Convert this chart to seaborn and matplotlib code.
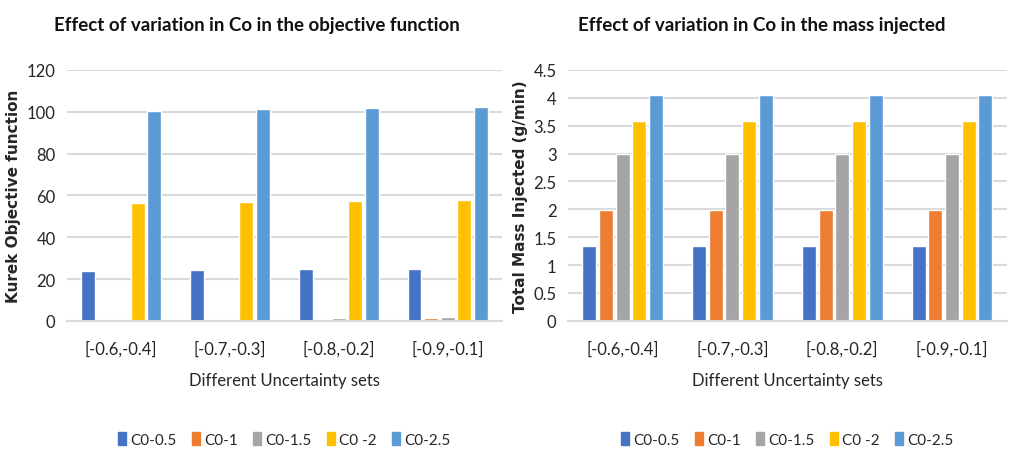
import pandas as pd
import matplotlib.pyplot as plt
import seaborn as sns

# data
sets = ['[-0.6,-0.4]', '[-0.7,-0.3]', '[-0.8,-0.2]', '[-0.9,-0.1]']
series = ['C0-0.5', 'C0-1', 'C0-1.5', 'C0 -2', 'C0-2.5']
kurek = {
    'C0-0.5': [24.0, 24.1, 24.7, 24.8],
    'C0-1':   [0.0, 0.2, 0.8, 1.3],
    'C0-1.5': [0.0, 0.8, 1.3, 1.8],
    'C0 -2':  [56.3, 57.0, 57.4, 57.8],
    'C0-2.5': [100.5, 101.1, 101.6, 102.1],
}
mass = {
    'C0-0.5': [1.35, 1.35, 1.35, 1.35],
    'C0-1':   [1.99, 1.99, 1.99, 1.99],
    'C0-1.5': [2.99, 2.99, 2.99, 2.99],
    'C0 -2':  [3.58, 3.58, 3.58, 3.58],
    'C0-2.5': [4.05, 4.05, 4.05, 4.05],
}
colores = ['#4472C4', '#ED7D31', '#A5A5A5', '#FFC000', '#5B9BD5']

def to_long(d):
    rows = []
    for s in series:
        for c, v in zip(sets, d[s]):
            rows.append({'set': c, 'serie': s, 'valor': v})
    return pd.DataFrame(rows)

sns.set_theme(style="white")
plt.rcParams['font.family'] = ['Lato', 'DejaVu Sans']

fig = plt.figure(figsize=(10.1, 4.52), dpi=100)
ax1 = fig.add_axes([0.066, 0.288, 0.431, 0.555])
ax2 = fig.add_axes([0.562, 0.288, 0.435, 0.555])

configs = [
    (ax1, kurek, 'Kurek Objective function', 'Effect of variation in Co in the objective function',
     (0, 120), range(0, 121, 20), [str(v) for v in range(0, 121, 20)], 0.254),
    (ax2, mass, 'Total Mass Injected (g/min)', 'Effect of variation in Co in the mass injected',
     (0, 4.5), [i * 0.5 for i in range(10)],
     ['0', '0.5', '1', '1.5', '2', '2.5', '3', '3.5', '4', '4.5'], 0.754),
]

for ax, d, ylab, titulo, ylim, ticks, ticklabels, tx in configs:
    df = to_long(d)
    sns.barplot(data=df, x='set', y='valor', hue='serie', palette=colores,
                width=0.76, gap=0.16, ax=ax, legend=False, saturation=1)
    ax.set_ylim(*ylim)
    ax.set_yticks(list(ticks))
    ax.set_yticklabels(ticklabels, fontsize=12)
    ax.tick_params(axis='x', labelsize=12, pad=14, length=0)
    ax.tick_params(axis='y', pad=8, length=0)
    ax.yaxis.grid(True, color='#D9D9D9', linewidth=1.5)
    ax.set_axisbelow(True)
    for s in ['top', 'right', 'left']:
        ax.spines[s].set_visible(False)
    ax.spines['bottom'].set_color('#D9D9D9')
    ax.spines['bottom'].set_linewidth(1.5)
    ax.set_xlim(-0.5, 3.5)
    ax.set_ylabel(ylab, fontsize=11, fontweight='bold', family='DejaVu Sans')
    ax.set_xlabel('Different Uncertainty sets', fontsize=12, labelpad=11)
    fig.text(tx, 0.943, titulo, ha='center', va='center',
             fontsize=13.5, fontweight='bold', color='#111111')
    # legend below each chart
    handles = [plt.Rectangle((0, 0), 1, 1, color=c) for c in colores]
    ax.legend(handles, series, loc='upper center', bbox_to_anchor=(0.5, -0.39),
              ncol=5, frameon=False, fontsize=11, handlelength=0.5, handleheight=0.9,
              handletextpad=0.3, columnspacing=1.0)

plt.savefig('out.png', dpi=100)
plt.close()
